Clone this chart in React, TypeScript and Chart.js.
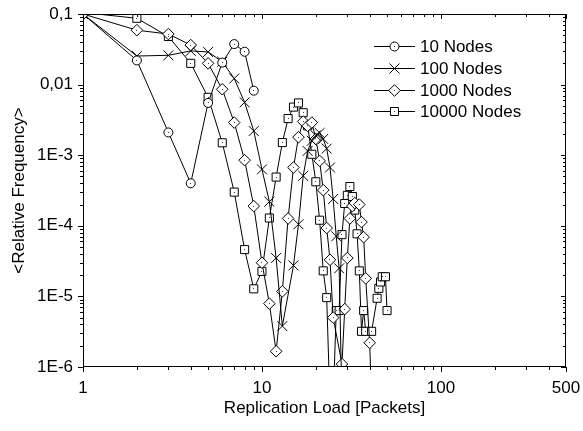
import React, { useEffect, useRef } from 'react';
import { Chart, registerables } from 'chart.js';

Chart.register(...registerables);

// ---- data ----
const seriesNames = ['10 Nodes', '100 Nodes', '1000 Nodes', '10000 Nodes'];
const markerKinds = ['circle', 'cross', 'diamond', 'square'];

const xTickValues = [1, 10, 100, 500];
const yTickValues = [1e-6, 1e-5, 1e-4, 1e-3, 0.01, 0.1];
const yTickLabels = ['1E-6', '1E-5', '1E-4', '1E-3', '0,01', '0,1'];

const x10 = [1, 2, 3, 4, 5, 6, 7, 8, 9];
const y10 = [0.1, 0.022, 0.0021, 0.0004, 0.0055, 0.0205, 0.0375, 0.0292, 0.0082];

const x100 = [1, 2, 3, 4, 5, 6, 7, 8, 9, 10, 11, 12, 13, 15, 16, 17, 18, 19, 20, 21, 22, 23, 24, 25, 26, 27, 28];
const y100 = [0.1, 0.0254, 0.026, 0.03, 0.029, 0.0211, 0.0122, 0.0056, 0.0022, 0.00063, 0.00022, 3.5e-5, 3.8e-6, 2.75e-5, 1.05e-4, 5.1e-4, 1.15e-3, 1.6e-3, 1.9e-3, 2.07e-3, 1.7e-3, 1.24e-3, 6.7e-4, 2.4e-4, 7.1e-5, 2.5e-5, 3e-7];

const x1000 = [1, 2, 3, 4, 5, 6, 7, 8, 9, 10, 11, 12, 13, 14, 15, 16, 17, 18, 19, 20, 21, 22, 23, 24, 25, 28, 29, 30, 31, 32, 33, 35, 36, 37, 38, 40, 41];
const y1000 = [0.1, 0.059, 0.052, 0.0363, 0.02, 0.0086, 0.0029, 0.00085, 0.00019, 3.0e-5, 7.9e-6, 1.67e-6, 1.18e-5, 1.27e-4, 6.7e-4, 1.8e-3, 3.0e-3, 2.6e-3, 2.9e-3, 1.7e-3, 8.3e-4, 3.2e-4, 9.3e-5, 3.3e-5, 5.0e-6, 1.1e-6, 6.6e-6, 3.5e-5, 1.27e-4, 1.9e-4, 2.1e-4, 2.0e-4, 1.13e-4, 6.9e-5, 1.8e-5, 2.2e-6, 3e-7];

const x10000 = [1, 2, 3, 4, 5, 6, 7, 8, 9, 10, 11, 12, 13, 14, 15, 16, 17, 18, 19, 20, 21, 22, 23, 24, 25, 26, 27, 28, 29, 30, 31, 32, 33, 34, 35, 36, 37, 38, 41, 44, 45, 46, 47, 49, 50];
const y10000 = [0.105, 0.087, 0.048, 0.02, 0.0066, 0.0015, 0.0003, 4.6e-5, 1.28e-5, 2.26e-5, 1.29e-4, 4.9e-4, 1.51e-3, 3.3e-3, 4.8e-3, 5.5e-3, 4.0e-3, 2.6e-3, 1.03e-3, 4.2e-4, 1.2e-4, 2.3e-5, 9.6e-6, 3e-7, 3e-7, 6.3e-6, 6.3e-6, 7.5e-5, 2.07e-4, 2.7e-4, 3.6e-4, 2.6e-4, 1.67e-4, 7.7e-5, 2.3e-5, 3.2e-6, 6.3e-6, 3.2e-6, 3.2e-6, 9.4e-6, 1.3e-5, 1.6e-5, 1.9e-5, 1.9e-5, 6.3e-6];

const FONT = "'Liberation Sans', Arial, sans-serif";
const FS = 17;

const pointStyleOf: Record<string, string> = { circle: 'circle', cross: 'crossRot', diamond: 'rectRot', square: 'rect' };
const radiusOf: Record<string, number> = { circle: 4.5, cross: 7, diamond: 5.8, square: 5.7 };

function drawMarker(ctx: CanvasRenderingContext2D, kind: string, x: number, y: number) {
  ctx.save();
  ctx.strokeStyle = '#000';
  ctx.fillStyle = '#fff';
  ctx.lineWidth = 1;
  ctx.beginPath();
  if (kind === 'circle') {
    ctx.arc(x, y, 4.5, 0, Math.PI * 2);
    ctx.fill();
    ctx.stroke();
  } else if (kind === 'square') {
    ctx.rect(x - 4, y - 4, 8, 8);
    ctx.fill();
    ctx.stroke();
  } else if (kind === 'diamond') {
    ctx.moveTo(x, y - 5.8);
    ctx.lineTo(x + 5.8, y);
    ctx.lineTo(x, y + 5.8);
    ctx.lineTo(x - 5.8, y);
    ctx.closePath();
    ctx.fill();
    ctx.stroke();
  } else {
    ctx.moveTo(x - 5, y - 5);
    ctx.lineTo(x + 5, y + 5);
    ctx.moveTo(x - 5, y + 5);
    ctx.lineTo(x + 5, y - 5);
    ctx.stroke();
  }
  if (kind !== 'cross') {
    ctx.fillStyle = '#444';
    ctx.fillRect(Math.round(x - 0.5), Math.round(y - 0.5), 1, 1);
  }
  ctx.restore();
}

export default function App() {
  const ref = useRef<HTMLCanvasElement | null>(null);

  useEffect(() => {
    const canvas = ref.current;
    if (!canvas) return;
    const xs = [x10, x100, x1000, x10000];
    const ys = [y10, y100, y1000, y10000];

    const framePlugin = {
      id: 'frameTicks',
      afterDatasetsDraw(chart: any) {
        const ctx = chart.ctx;
        const a = chart.chartArea;
        ctx.save();
        ctx.fillStyle = '#444';
        chart.data.datasets.forEach((_: any, i: number) => {
          if (markerKinds[i] === 'cross') return;
          const meta = chart.getDatasetMeta(i);
          meta.data.forEach((p: any) => {
            if (p.x >= a.left && p.x <= a.right && p.y >= a.top && p.y <= a.bottom) {
              ctx.fillRect(Math.round(p.x - 0.5), Math.round(p.y - 0.5), 1, 1);
            }
          });
        });
        ctx.restore();
      },
      afterDraw(chart: any) {
        const ctx = chart.ctx;
        const a = chart.chartArea;
        const xS = chart.scales.x;
        const yS = chart.scales.y;
        ctx.save();
        ctx.strokeStyle = '#000';
        ctx.lineWidth = 1;
        ctx.strokeRect(Math.round(a.left) + 0.5, Math.round(a.top) + 0.5, Math.round(a.right - a.left) - 1, Math.round(a.bottom - a.top) - 1);
        ctx.beginPath();
        for (let d = 1; d <= 100; d *= 10) {
          for (let k = 1; k <= 9; k++) {
            const v = d * k;
            if (v > 500) break;
            const major = k === 1 || v === 500;
            const px = Math.round(xS.getPixelForValue(v)) + 0.5;
            const len = major ? 5 : 3;
            ctx.moveTo(px, a.bottom);
            ctx.lineTo(px, a.bottom + len);
            ctx.moveTo(px, a.top);
            ctx.lineTo(px, a.top + len);
          }
        }
        for (let d = 1e-6; d < 0.2; d *= 10) {
          for (let k = 1; k <= 9; k++) {
            const v = d * k;
            if (v > 0.1 * 1.0001) break;
            const major = k === 1;
            const py = Math.round(yS.getPixelForValue(v)) + 0.5;
            const len = major ? 5 : 3;
            ctx.moveTo(a.left, py);
            ctx.lineTo(a.left - len, py);
            ctx.moveTo(a.right, py);
            ctx.lineTo(a.right - len, py);
          }
        }
        ctx.stroke();

        // legend
        const lx = 374;
        const ly0 = 46;
        const dy = 21.8;
        ctx.font = `${FS}px ${FONT}`;
        ctx.fillStyle = '#000';
        ctx.textBaseline = 'middle';
        ctx.textAlign = 'left';
        seriesNames.forEach((name, i) => {
          const y = Math.round(ly0 + i * dy) + 0.5;
          ctx.beginPath();
          ctx.moveTo(lx, y);
          ctx.lineTo(lx + 41, y);
          ctx.stroke();
          drawMarker(ctx, markerKinds[i], lx + 20.5, y);
          ctx.fillStyle = '#000';
          ctx.fillText(name, lx + 46, y + 1);
        });
        ctx.restore();
      },
    };

    const chart = new Chart(canvas, {
      type: 'line',
      data: {
        datasets: seriesNames.map((name, i) => ({
          label: name,
          data: xs[i].map((x, j) => ({ x, y: ys[i][j] })),
          borderColor: '#000',
          borderWidth: 1,
          backgroundColor: '#fff',
          pointBackgroundColor: '#fff',
          pointBorderColor: '#000',
          pointBorderWidth: 1,
          pointStyle: pointStyleOf[markerKinds[i]] as any,
          pointRadius: radiusOf[markerKinds[i]],
          tension: 0,
          fill: false,
        })),
      },
      options: {
        animation: false,
        responsive: false,
        devicePixelRatio: 1,
        layout: { padding: { top: 14, right: 17, left: 0, bottom: 0 } },
        plugins: { legend: { display: false }, tooltip: { enabled: false } },
        scales: {
          x: {
            type: 'logarithmic',
            min: 1,
            max: 500,
            grid: { display: false, drawTicks: false },
            border: { display: false },
            afterBuildTicks: (s: any) => {
              s.ticks = xTickValues.map((v) => ({ value: v }));
            },
            afterFit: (s: any) => {
              s.height = 64;
              s.paddingLeft = 0;
              s.paddingRight = 0;
            },
            ticks: {
              color: '#000',
              padding: 11,
              maxRotation: 0,
              autoSkip: false,
              font: { family: FONT, size: FS },
              callback: (v: any) => String(v),
            },
            title: {
              display: true,
              text: 'Replication Load [Packets]',
              color: '#000',
              font: { family: FONT, size: FS },
              padding: { top: 0, bottom: 12 },
            },
          },
          y: {
            type: 'logarithmic',
            min: 1e-6,
            max: 0.1,
            grid: { display: false, drawTicks: false },
            border: { display: false },
            afterBuildTicks: (s: any) => {
              s.ticks = yTickValues.map((v) => ({ value: v }));
            },
            afterFit: (s: any) => {
              s.width = 83;
              s.paddingTop = 0;
              s.paddingBottom = 0;
            },
            ticks: {
              color: '#000',
              padding: 10,
              autoSkip: false,
              font: { family: FONT, size: FS },
              callback: (v: any) => {
                const idx = yTickValues.findIndex((t) => Math.abs(Math.log10(t) - Math.log10(v)) < 1e-6);
                return idx >= 0 ? yTickLabels[idx] : '';
              },
            },
            title: {
              display: true,
              text: '<Relative Frequency>',
              color: '#000',
              font: { family: FONT, size: FS },
              padding: { top: 9, bottom: 0 },
            },
          },
        },
      },
      plugins: [framePlugin],
    });
    return () => chart.destroy();
  }, []);

  return (
    <div style={{ position: 'fixed', left: 0, top: 0, width: 583, height: 431, background: '#fff' }}>
      <canvas ref={ref} width={583} height={431} style={{ width: 583, height: 431 }} />
    </div>
  );
}
